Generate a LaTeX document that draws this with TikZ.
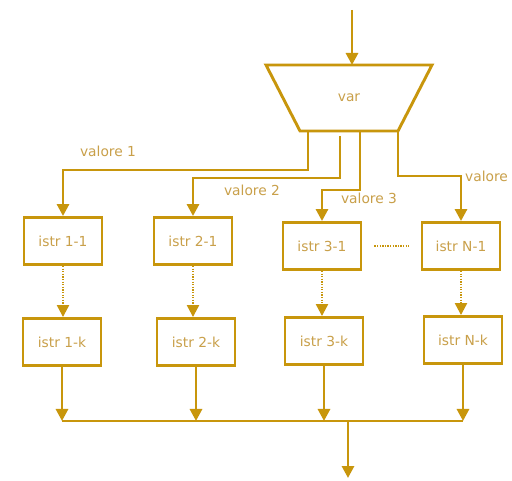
\documentclass[tikz,border=0pt]{standalone}
\usepackage{fontspec}
\setmainfont{DejaVu Sans}
\usepackage{xcolor}
\usepackage{tikz}
\usetikzlibrary{arrows,arrows.meta,calc,positioning}
\definecolor{ocra}{HTML}{C8960C}
\definecolor{ocratext}{HTML}{C9A04A}
\tikzstyle{istrbox} = [draw=ocra, line width=2.9pt, rectangle, minimum width=78pt,
    minimum height=47pt, inner sep=0pt, text=ocratext, font=\fontsize{13.8}{16}\selectfont]
\tikzstyle{selbox} = [draw=ocra, line width=2.9pt, line join=miter]
\tikzstyle{flow} = [draw=ocra, line width=2.9pt, -{Triangle[width=12pt,length=12pt]}]
\tikzstyle{dotflow} = [draw=ocra, line width=2.3pt, dash pattern=on 1.3pt off 1.3pt,
    -{Triangle[width=12pt,length=12pt]}]
\tikzstyle{wire} = [draw=ocra, line width=2.9pt]
\tikzstyle{valtext} = [text=ocratext, inner sep=0pt, font=\fontsize{13.8}{16}\selectfont]

\begin{document}
\begin{tikzpicture}[x=1pt,y=-1pt]
\clip (0,0) rectangle (512,481);
\fill[white] (0,0) rectangle (512,481);
% selettore
\node [valtext] (var) at (349,98) {var};
\draw[selbox] ($(var)+(-83,-33)$) -- ($(var)+(83,-33)$) -- ($(var)+(49,33)$)
  -- ($(var)+(-49,33)$) -- cycle;
\coordinate (in) at (352,10);
\draw[flow] (in) -- ($(var)+(3,-33)$);
% prima riga
\node [istrbox] (b11) at (63,241) {istr 1-1};
\node [istrbox] (b21) at (193,241) {istr 2-1};
\node [istrbox] (b31) at (322,246) {istr 3-1};
\node [istrbox] (bN1) at (461,246) {istr N-1};
% seconda riga
\node [istrbox] (b1k) at (62,342) {istr 1-k};
\node [istrbox] (b2k) at (196,342) {istr 2-k};
\node [istrbox] (b3k) at (324,341) {istr 3-k};
\node [istrbox] (bNk) at (463,340) {istr N-k};
% uscite del selettore
\coordinate (o1) at ($(var)+(-41,33)$);
\coordinate (o2) at ($(var)+(-9,38)$);
\coordinate (o3) at ($(var)+(11,33)$);
\coordinate (oN) at ($(var)+(49,33)$);
\draw[flow] (o1) -- ++(0,39) -| (b11.north);
\draw[flow] (o2) -- ++(0,42) -| (b21.north);
\draw[flow] (o3) -- ++(0,59) -| (b31.north);
\draw[flow] (oN) -- ++(0,45) -| (bN1.north);
\node[valtext] (v1) at (108,151) {valore 1};
\node[valtext] (v2) at (252,190) {valore 2};
\node[valtext] (v3) at (369,198) {valore 3};
\node[valtext, anchor=west] (vN) at (465,176) {valore};
% istruzioni intermedie
\foreach \i in {1,2,3,N}
  \draw[dotflow] (b\i1.south) -- (b\i1.south |- b\i k.north);
\draw[draw=ocra, line width=2.3pt, dash pattern=on 1.3pt off 1.3pt]
  ($(b31.east)+(12,0)$) -- ($(bN1.west)+(-12,0)$);
% raccolta
\coordinate (bus) at (0,421);
\foreach \i in {1,2,3,N}
  \draw[flow] (b\i k.south) -- (b\i k.south |- bus);
\draw[wire] (b1k.south |- bus) -- (bNk.south |- bus);
\coordinate (out) at (348,478);
\draw[flow] (out |- bus) -- (out);
\end{tikzpicture}
\end{document}
